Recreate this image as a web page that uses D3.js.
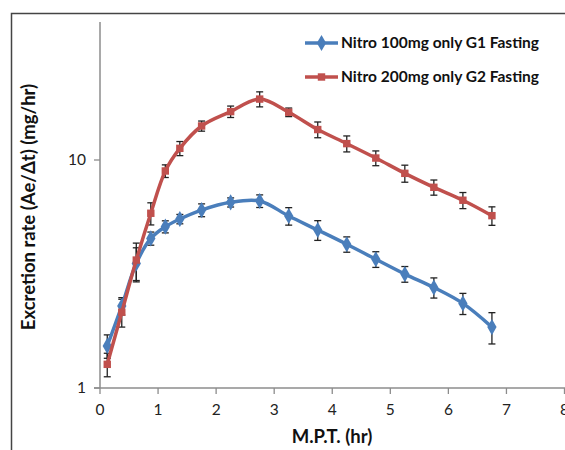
<!DOCTYPE html>
<html><head><meta charset="utf-8">
<script src="https://cdn.jsdelivr.net/npm/d3@7"></script>
<style>body{margin:0;background:#fff}svg{display:block}</style>
</head><body>
<script>
const times = [0.125,0.375,0.625,0.875,1.125,1.375,1.75,2.25,2.75,3.25,3.75,4.25,4.75,5.25,5.75,6.25,6.75];
const g1Values = [1.53,2.29,3.52,4.53,5.10,5.51,6.03,6.52,6.61,5.68,4.93,4.27,3.67,3.16,2.76,2.35,1.85];
const g1Errors = [0.18,0.20,0.60,0.30,0.31,0.26,0.39,0.30,0.42,0.50,0.49,0.33,0.29,0.25,0.28,0.25,0.29];
const g2Values = [1.27,2.15,3.64,5.84,8.95,11.25,14.1,16.3,18.5,16.2,13.6,11.8,10.2,8.74,7.59,6.66,5.70];
const g2Errors = [0.15,0.30,0.68,0.65,0.57,0.80,0.72,0.94,1.40,0.70,1.08,0.95,0.76,0.75,0.58,0.54,0.53];
const seriesNames = ["Nitro 100mg only G1 Fasting","Nitro 200mg only G2 Fasting"];
const xTicks = [0,1,2,3,4,5,6,7,8];
const yTicks = [1,10];

const W=565,H=450;
const svg=d3.select("body").append("svg").attr("width",W).attr("height",H);
const font="Lato, 'Open Sans', sans-serif";

// frame
svg.append("path").attr("d",`M11.5,${H} V13.5 H${W}`).attr("fill","none").attr("stroke","#444").attr("stroke-width",1.5);

const x=d3.scaleLinear().domain([0,8]).range([100,564.5]);
const y=d3.scaleLog().domain([1,10]).range([388,160]);

const axisColor="#8c8c8c";
// y axis
svg.append("line").attr("x1",100).attr("x2",100).attr("y1",22).attr("y2",388).attr("stroke",axisColor).attr("stroke-width",1.5);
yTicks.forEach(t=>{
  svg.append("line").attr("x1",94).attr("x2",100).attr("y1",y(t)).attr("y2",y(t)).attr("stroke",axisColor).attr("stroke-width",1.3);
  svg.append("text").attr("x",86).attr("y",y(t)).attr("dy","0.35em").attr("text-anchor","end")
    .attr("font-family",font).attr("font-size",15.5).attr("fill","#222").text(t);
});
// x axis
svg.append("line").attr("x1",94).attr("x2",W).attr("y1",388).attr("y2",388).attr("stroke",axisColor).attr("stroke-width",1.5);
xTicks.forEach(t=>{
  svg.append("line").attr("x1",x(t)).attr("x2",x(t)).attr("y1",388).attr("y2",394).attr("stroke",axisColor).attr("stroke-width",1.3);
  svg.append("text").attr("x",x(t)).attr("y",410).attr("dy","0.35em").attr("text-anchor","middle")
    .attr("font-family",font).attr("font-size",15.5).attr("fill","#222").text(t);
});

// titles
svg.append("text").attr("x",332).attr("y",437).attr("dy","0.35em").attr("text-anchor","middle")
  .attr("font-family",font).attr("font-weight","bold").attr("font-size",18.5).attr("fill","#111").text("M.P.T. (hr)");
svg.append("text").attr("transform","translate(29,207) rotate(-90)").attr("dy","0.35em").attr("text-anchor","middle")
  .attr("font-family",font).attr("font-weight","bold").attr("font-size",18.5).attr("fill","#111").text("Excretion rate (Ae/\u0394t) (mg/hr)");

const series=[
  {name:seriesNames[0],vals:g1Values,errs:g1Errors,color:"#4a7ebb",shape:d3.symbolDiamond,size:75},
  {name:seriesNames[1],vals:g2Values,errs:g2Errors,color:"#c0504d",shape:d3.symbolSquare,size:55}
];
const line=d3.line().x(d=>x(d[0])).y(d=>y(d[1])).curve(d3.curveCatmullRom.alpha(0.5));

series.forEach(s=>{
  const pts=times.map((t,i)=>[t,s.vals[i],s.errs[i]]);
  const eg=svg.append("g").attr("stroke","#222").attr("stroke-width",1.3);
  pts.forEach(p=>{
    const xp=x(p[0]),y1=y(p[1]+p[2]),y2=y(p[1]-p[2]);
    eg.append("line").attr("x1",xp).attr("x2",xp).attr("y1",y1).attr("y2",y2);
    eg.append("line").attr("x1",xp-3.5).attr("x2",xp+3.5).attr("y1",y1).attr("y2",y1);
    eg.append("line").attr("x1",xp-3.5).attr("x2",xp+3.5).attr("y1",y2).attr("y2",y2);
  });
});
series.forEach(s=>{
  const pts=times.map((t,i)=>[t,s.vals[i]]);
  svg.append("path").datum(pts).attr("d",line).attr("fill","none").attr("stroke",s.color).attr("stroke-width",3.5);
  svg.append("g").selectAll("path").data(pts).join("path")
    .attr("transform",d=>`translate(${x(d[0])},${y(d[1])})`)
    .attr("d",d3.symbol().type(s.shape).size(s.size)).attr("fill",s.color);
});

// legend
series.forEach((s,i)=>{
  const ly=43+i*34;
  svg.append("line").attr("x1",305).attr("x2",338).attr("y1",ly).attr("y2",ly).attr("stroke",s.color).attr("stroke-width",3.5);
  svg.append("path").attr("transform",`translate(321.5,${ly})`).attr("d",d3.symbol().type(s.shape).size(s.size)).attr("fill",s.color);
  svg.append("text").attr("x",341).attr("y",ly).attr("dy","0.35em").attr("font-family",font).attr("font-weight","bold")
    .attr("font-size",15.5).attr("fill","#111").text(s.name);
});
</script>
</body></html>
